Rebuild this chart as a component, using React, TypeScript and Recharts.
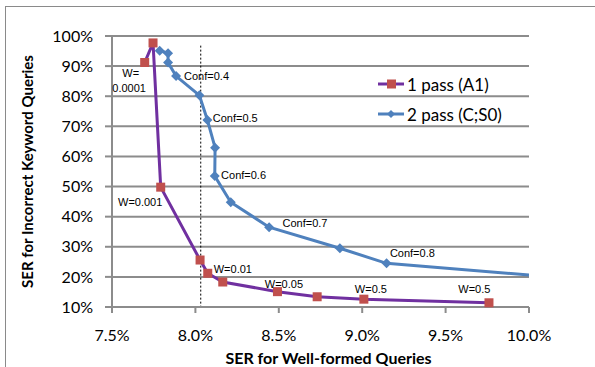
import React from 'react';
import { ComposedChart, Line, XAxis, YAxis, CartesianGrid, ReferenceLine, ReferenceDot } from 'recharts';

// SER values in percent
const onePassX = [7.696, 7.746, 7.792, 8.028, 8.074, 8.164, 8.492, 8.73, 9.01, 9.76];
const onePassY = [91.2, 97.7, 49.8, 25.6, 21.2, 18.3, 15.1, 13.4, 12.6, 11.4];

const twoPassX = [7.786, 7.836, 7.836, 7.884, 8.024, 8.072, 8.118, 8.116, 8.212, 8.442, 8.866, 9.146, 10.0];
const twoPassY = [95.1, 94.3, 91.2, 86.7, 80.3, 72.1, 62.9, 53.5, 44.8, 36.5, 29.5, 24.5, 20.6];

const xTicks = [7.5, 8.0, 8.5, 9.0, 9.5, 10.0];
const yTicks = [10, 20, 30, 40, 50, 60, 70, 80, 90, 100];

const noteText = ['W=', '0.0001', 'Conf=0.4', 'Conf=0.5', 'Conf=0.6', 'W=0.001', 'W=0.01', 'W=0.05', 'Conf=0.7', 'Conf=0.8', 'W=0.5', 'W=0.5'];
const noteX = [7.562, 7.502, 7.932, 8.104, 8.154, 7.536, 8.11, 8.416, 8.522, 9.166, 8.956, 9.576];
const noteY = [87.7, 82.7, 86.7, 72.9, 53.9, 44.8, 22.6, 17.5, 37.8, 28.0, 16.0, 16.0];

const cutoffX = 8.032;

const onePass = onePassX.map((x, i) => ({ x, y: onePassY[i] }));
const twoPass = twoPassX.map((x, i) => ({ x, y: twoPassY[i] }));

const PURPLE = '#7030A0';
const RED = '#C0504D';
const BLUE = '#4F81BD';
const GRID = '#8c8c8c';
const TICK_FONT = 'Lato, "Open Sans", sans-serif';

const Square = (props: any) => {
  const { cx, cy, index } = props;
  if (cx == null || cy == null) return <g key={index} />;
  return <rect key={index} x={cx - 4.5} y={cy - 4.5} width={9} height={9} fill={RED} />;
};

const Diamond = (props: any) => {
  const { cx, cy, index } = props;
  if (cx == null || cy == null || index === twoPass.length - 1) return <g key={index} />;
  const r = 5;
  return (
    <path
      key={index}
      d={`M${cx},${cy - r}L${cx + r},${cy}L${cx},${cy + r}L${cx - r},${cy}Z`}
      fill={BLUE}
    />
  );
};

const LegendBox = () => (
  <div style={{ position: 'absolute', left: 378, top: 69, fontFamily: TICK_FONT, fontSize: 17, color: '#000' }}>
    {[
      { name: '1 pass (A1)', line: PURPLE, marker: 'square' },
      { name: '2 pass (C;S0)', line: BLUE, marker: 'diamond' },
    ].map((item) => (
      <div key={item.name} style={{ display: 'flex', alignItems: 'center', height: 30 }}>
        <svg width={27} height={12} style={{ marginRight: 2 }}>
          <line x1={0} y1={6} x2={26} y2={6} stroke={item.line} strokeWidth={3} />
          {item.marker === 'square' ? (
            <rect x={9} y={1.5} width={9} height={9} fill={RED} />
          ) : (
            <path d="M13,2L17,6L13,10L9,6Z" fill={BLUE} />
          )}
        </svg>
        <span>{item.name}</span>
      </div>
    ))}
  </div>
);

const Note = (text: string) => (props: any) => (
  <text
    x={props.cx}
    y={props.cy}
    dominantBaseline="central"
    textAnchor="start"
    fontFamily='"Liberation Sans", Arial, sans-serif'
    fontSize={11}
    fill="#000"
  >
    {text}
  </text>
);

export default function App() {
  return (
    <div style={{ position: 'absolute', left: 0, top: 0, width: 595, height: 367, background: '#fff', overflow: 'hidden' }}>
      <div
        style={{
          position: 'absolute',
          left: 5,
          top: 6,
          width: 600,
          height: 400,
          borderLeft: '1px solid #8a8a8a',
          borderTop: '1px solid #8a8a8a',
        }}
      />
      <div style={{ position: 'absolute', left: 0, top: 0 }}>
        <ComposedChart width={595} height={367} margin={{ top: 36, right: 66, bottom: 29, left: 52 }}>
          <CartesianGrid horizontal vertical={false} stroke={GRID} strokeWidth={2} />
          <XAxis
            type="number"
            dataKey="x"
            domain={[7.5, 10]}
            ticks={xTicks}
            tickFormatter={(v: number) => `${v.toFixed(1)}%`}
            allowDataOverflow
            height={31}
            stroke={GRID}
            strokeWidth={2}
            tickSize={6}
            tickMargin={17}
            tick={{ fill: '#000', fontSize: 16, fontFamily: TICK_FONT }}
            label={{
              value: 'SER for Well-formed Queries',
              position: 'insideBottom',
              offset: -26,
              dx: 8,
              style: { fontFamily: TICK_FONT, fontSize: 16, fontWeight: 700, fill: '#000' },
            }}
          />
          <YAxis
            type="number"
            dataKey="y"
            domain={[10, 100]}
            ticks={yTicks}
            tickFormatter={(v: number) => `${v}%`}
            width={60}
            stroke={GRID}
            strokeWidth={2}
            tickSize={7}
            tickMargin={12}
            tick={{ fill: '#000', fontSize: 16, fontFamily: TICK_FONT }}
            label={{
              value: 'SER for Incorrect Keyword Queries',
              angle: -90,
              position: 'insideLeft',
              offset: -24,
              style: { textAnchor: 'middle', fontFamily: TICK_FONT, fontSize: 15, fontWeight: 700, fill: '#000' },
            }}
          />
          <ReferenceLine
            segment={[{ x: cutoffX, y: 96.8 }, { x: cutoffX, y: 10 }]}
            stroke="#000"
            strokeWidth={1}
            strokeDasharray="2 2"
          />
          <Line
            data={onePass}
            dataKey="y"
            name="1 pass (A1)"
            stroke={PURPLE}
            strokeWidth={3}
            dot={<Square />}
            activeDot={false}
            isAnimationActive={false}
          />
          <Line
            data={twoPass}
            dataKey="y"
            name="2 pass (C;S0)"
            stroke={BLUE}
            strokeWidth={3}
            dot={<Diamond />}
            activeDot={false}
            isAnimationActive={false}
          />
          {noteText.map((t, i) => (
            <ReferenceDot key={i} x={noteX[i]} y={noteY[i]} r={0} ifOverflow="visible" shape={Note(t)} />
          ))}
        </ComposedChart>
      </div>
      <LegendBox />
    </div>
  );
}
